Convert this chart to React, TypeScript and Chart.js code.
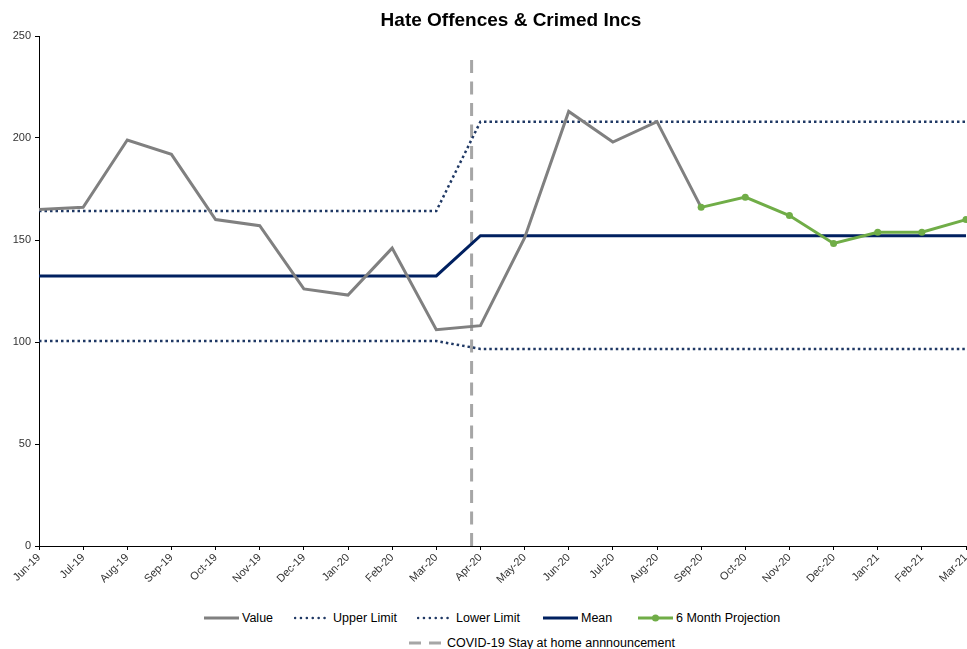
import React, { useEffect, useRef } from "react";
import { Chart, registerables } from "chart.js";

Chart.register(...registerables);

const months = [
  "Jun-19", "Jul-19", "Aug-19", "Sep-19", "Oct-19", "Nov-19", "Dec-19",
  "Jan-20", "Feb-20", "Mar-20", "Apr-20", "May-20", "Jun-20", "Jul-20",
  "Aug-20", "Sep-20", "Oct-20", "Nov-20", "Dec-20", "Jan-21", "Feb-21", "Mar-21",
];

const valueSeries = [
  165, 166, 199, 192, 160, 157, 126, 123, 146, 106, 108, 151, 213, 198, 208, 166,
  null, null, null, null, null, null,
];

const upperLimit = [
  164.2, 164.2, 164.2, 164.2, 164.2, 164.2, 164.2, 164.2, 164.2, 164.2,
  208, 208, 208, 208, 208, 208, 208, 208, 208, 208, 208, 208,
];

const lowerLimit = [
  100.5, 100.5, 100.5, 100.5, 100.5, 100.5, 100.5, 100.5, 100.5, 100.5,
  96.6, 96.6, 96.6, 96.6, 96.6, 96.6, 96.6, 96.6, 96.6, 96.6, 96.6, 96.6,
];

const meanSeries = [
  132.4, 132.4, 132.4, 132.4, 132.4, 132.4, 132.4, 132.4, 132.4, 132.4,
  152.1, 152.1, 152.1, 152.1, 152.1, 152.1, 152.1, 152.1, 152.1, 152.1, 152.1, 152.1,
];

const projection = [
  null, null, null, null, null, null, null, null, null, null, null, null, null, null, null,
  166, 171, 162, 148.3, 153.8, 153.8, 160,
];

// COVID-19 announcement marker: position along the month axis (index units) and its vertical extent
const covidX = [9.8, 9.8];
const covidY = [0, 239];

const yTicks = [0, 50, 100, 150, 200, 250];

const TITLE = "Hate Offences & Crimed Incs";
const FONT = "'Liberation Sans', Arial, sans-serif";

const GRAY = "#808080";
const NAVY_DOT = "#1F3864";
const NAVY = "#002060";
const GREEN = "#70AD47";
const DASH_GRAY = "#A6A6A6";

type LegendSpec = {
  label: string;
  color: string;
  width: number;
  dash?: string;
  cap?: string;
  marker?: boolean;
  left: number;
};

const legendRow1: LegendSpec[] = [
  { label: "Value", color: GRAY, width: 3, left: 203 },
  { label: "Upper Limit", color: NAVY_DOT, width: 2.5, dash: "0.1 5.8", cap: "round", left: 294 },
  { label: "Lower Limit", color: NAVY_DOT, width: 2.5, dash: "0.1 5.8", cap: "round", left: 417 },
  { label: "Mean", color: NAVY, width: 3, left: 542 },
  { label: "6 Month Projection", color: GREEN, width: 3, marker: true, left: 637 },
];
const legendRow2: LegendSpec[] = [
  { label: "COVID-19 Stay at home annnouncement", color: DASH_GRAY, width: 3, dash: "12 8", left: 408 },
];

function LegendItem({ item, top }: { item: LegendSpec; top: number }) {
  return (
    <div
      style={{
        position: "absolute",
        left: item.left,
        top,
        display: "flex",
        alignItems: "center",
        height: 16,
      }}
    >
      <svg width={37} height={10} style={{ display: "block" }}>
        <line
          x1={1}
          y1={5}
          x2={36}
          y2={5}
          stroke={item.color}
          strokeWidth={item.width}
          strokeDasharray={item.dash}
          strokeLinecap={(item.cap as any) || "butt"}
        />
        {item.marker ? <circle cx={18.5} cy={5} r={3.5} fill={item.color} /> : null}
      </svg>
      <span style={{ marginLeft: 2, whiteSpace: "nowrap" }}>{item.label}</span>
    </div>
  );
}

export default function App() {
  const canvasRef = useRef<HTMLCanvasElement | null>(null);

  useEffect(() => {
    const canvas = canvasRef.current;
    if (!canvas) return;
    const chart = new Chart(canvas, {
      type: "line",
      data: {
        labels: months,
        datasets: [
          {
            label: "6 Month Projection",
            data: projection,
            borderColor: GREEN,
            backgroundColor: GREEN,
            borderWidth: 3,
            pointRadius: 3.5,
            pointBackgroundColor: GREEN,
            pointBorderWidth: 0,
            tension: 0,
            spanGaps: false,
            order: 1,
          },
          {
            label: "Value",
            data: valueSeries,
            borderColor: GRAY,
            backgroundColor: GRAY,
            borderWidth: 3,
            pointRadius: 0,
            tension: 0,
            spanGaps: false,
            order: 2,
          },
          {
            label: "Mean",
            data: meanSeries,
            borderColor: NAVY,
            backgroundColor: NAVY,
            borderWidth: 3,
            pointRadius: 0,
            tension: 0,
            order: 3,
          },
          {
            label: "Upper Limit",
            data: upperLimit,
            borderColor: NAVY_DOT,
            backgroundColor: NAVY_DOT,
            borderWidth: 2.5,
            borderDash: [2.5, 3],
            pointRadius: 0,
            tension: 0,
            order: 4,
          },
          {
            label: "Lower Limit",
            data: lowerLimit,
            borderColor: NAVY_DOT,
            backgroundColor: NAVY_DOT,
            borderWidth: 2.5,
            borderDash: [2.5, 3],
            pointRadius: 0,
            tension: 0,
            order: 5,
          },
          {
            label: "COVID-19 Stay at home annnouncement",
            data: covidX.map((x, i) => ({ x, y: covidY[i] })),
            xAxisID: "x2",
            borderColor: DASH_GRAY,
            backgroundColor: DASH_GRAY,
            borderWidth: 3,
            borderDash: [13, 8.5],
            pointRadius: 0,
            order: 6,
          } as any,
        ],
      },
      options: {
        responsive: false,
        animation: false,
        devicePixelRatio: 1,
        layout: { autoPadding: false, padding: { top: 36, left: 0, right: 1, bottom: 0 } },
        plugins: {
          legend: { display: false },
          title: { display: false },
          tooltip: { enabled: false },
        },
        scales: {
          x: {
            type: "category",
            offset: false,
            grid: {
              drawOnChartArea: false,
              drawTicks: true,
              tickLength: 4,
              color: "#000000",
            },
            border: { display: true, color: "#000000", width: 1 },
            ticks: {
              autoSkip: false,
              minRotation: 45,
              maxRotation: 45,
              padding: 1,
              color: "#333333",
              font: { family: FONT, size: 11 },
            },
            afterFit: (scale: any) => {
              scale.height = 54;
              scale.paddingLeft = 0;
              scale.paddingRight = 0;
            },
          },
          x2: {
            type: "linear",
            display: false,
            min: 0,
            max: months.length - 1,
            ticks: { display: false },
            afterFit: (scale: any) => {
              scale.height = 0;
              scale.paddingLeft = 0;
              scale.paddingRight = 0;
            },
          },
          y: {
            type: "linear",
            min: yTicks[0],
            max: yTicks[yTicks.length - 1],
            afterBuildTicks: (scale: any) => {
              scale.ticks = yTicks.map((v) => ({ value: v }));
            },
            grid: {
              drawOnChartArea: false,
              drawTicks: true,
              tickLength: 4,
              color: "#000000",
            },
            border: { display: true, color: "#000000", width: 1 },
            ticks: {
              padding: 4,
              color: "#333333",
              font: { family: FONT, size: 11 },
            },
            afterFit: (scale: any) => {
              scale.width = 39;
            },
          },
        },
      } as any,
    });
    return () => chart.destroy();
  }, []);

  return (
    <div
      style={{
        position: "absolute",
        left: 0,
        top: 0,
        width: 967,
        height: 649,
        background: "#ffffff",
        fontFamily: FONT,
        overflow: "hidden",
      }}
    >
      <canvas ref={canvasRef} width={967} height={600} style={{ position: "absolute", left: 0, top: 0 }} />
      <div
        style={{
          position: "absolute",
          left: 311,
          width: 400,
          top: 9,
          textAlign: "center",
          fontSize: 19,
          fontWeight: "bold",
          color: "#000",
          lineHeight: "22px",
          whiteSpace: "nowrap",
        }}
      >
        {TITLE}
      </div>
      <div style={{ fontSize: 12.5, color: "#000", lineHeight: "16px" }}>
        {legendRow1.map((it) => (
          <LegendItem key={it.label} item={it} top={610} />
        ))}
        {legendRow2.map((it) => (
          <LegendItem key={it.label} item={it} top={635} />
        ))}
      </div>
    </div>
  );
}
